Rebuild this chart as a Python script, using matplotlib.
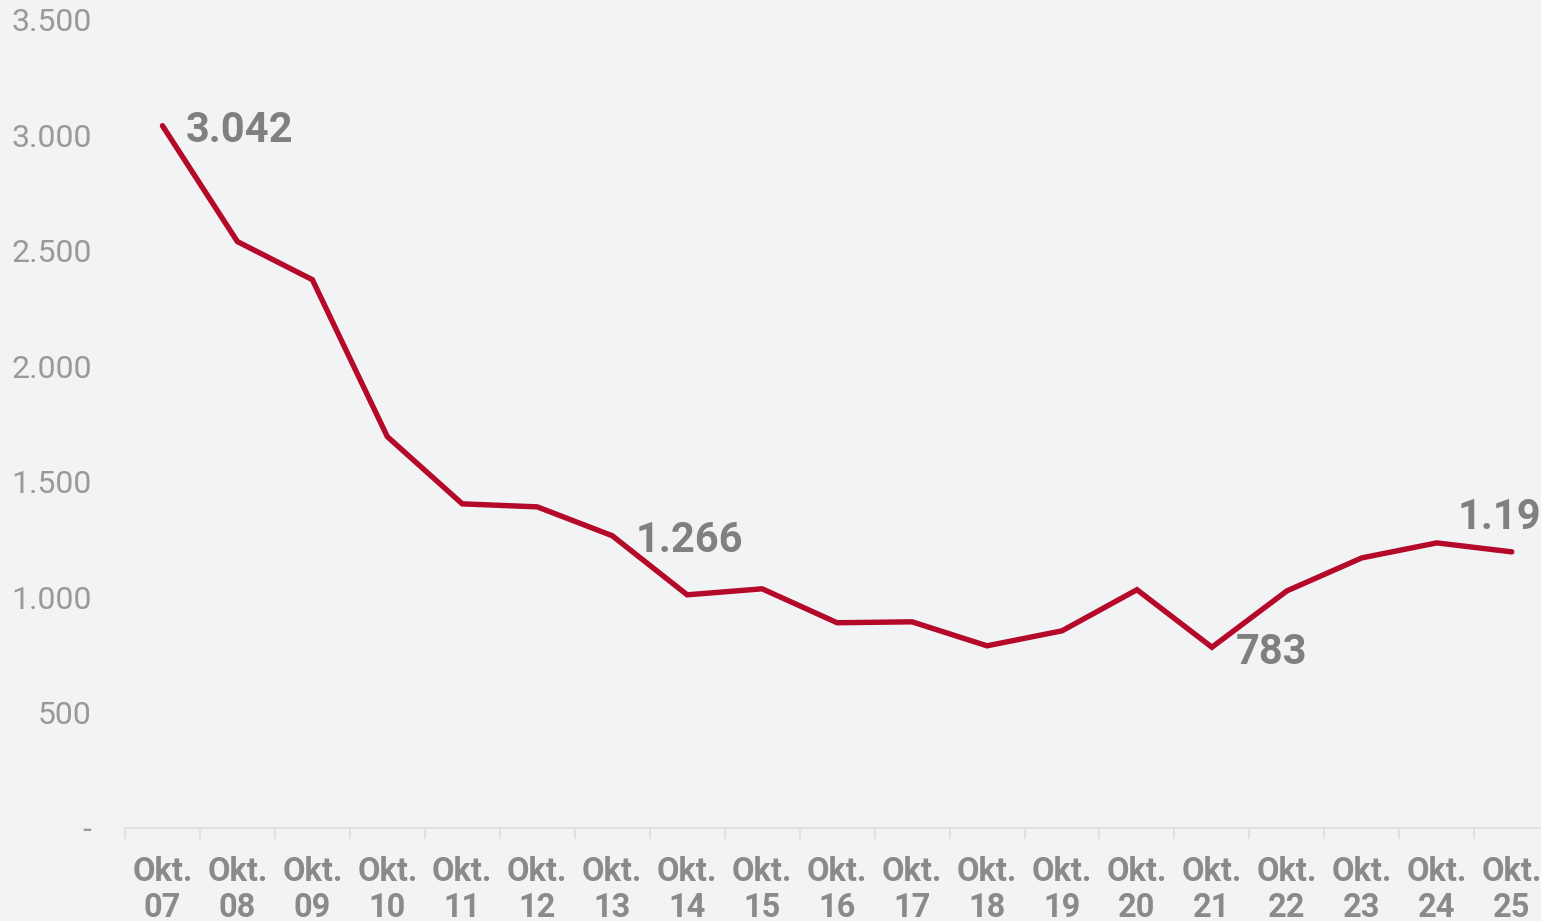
import numpy as np
import matplotlib.pyplot as plt
from matplotlib.ticker import FuncFormatter, FixedLocator

years = ['07', '08', '09', '10', '11', '12', '13', '14', '15', '16',
         '17', '18', '19', '20', '21', '22', '23', '24', '25']
values = [3042, 2540, 2375, 1695, 1404, 1391, 1266, 1010, 1036, 889,
          893, 789, 854, 1032, 783, 1027, 1170, 1235, 1196]
labelled = [0, 6, 14]   # Beschriftung rechts neben dem Punkt
last_idx = 18           # Beschriftung oberhalb

bg = '#f2f3f5'
red = '#b5092a'
grey = '#8a8a8a'


def de_fmt(v):
    if v == 0:
        return '-'
    return f'{int(v):,}'.replace(',', '.')


def main():
    plt.rcParams['font.family'] = ['Roboto', 'DejaVu Sans']
    fig = plt.figure(figsize=(15.41, 9.21), dpi=100, facecolor=bg)
    ax = fig.add_axes([0.0811, 0.101, 0.9189, 0.8773], facecolor=bg)

    x = np.arange(len(years))
    ax.plot(x, values, color=red, lw=3.9, solid_capstyle='round', solid_joinstyle='miter')

    ax.set_xlim(-0.5, 18.39)
    ax.set_ylim(0, 3500)

    for i in labelled:
        ax.annotate(de_fmt(values[i]), (x[i], values[i]), xytext=(17, -3.5),
                    textcoords='offset points', ha='left', va='center',
                    fontsize=30, fontweight='bold', color='#808080')
    ax.annotate(de_fmt(values[last_idx]), (x[last_idx], values[last_idx]),
                xytext=(0, 25), textcoords='offset points', ha='center', va='center',
                fontsize=30, fontweight='bold', color='#808080', annotation_clip=False)

    ax.set_yticks(np.arange(0, 3501, 500))
    ax.yaxis.set_major_formatter(FuncFormatter(lambda v, p: de_fmt(v)))
    ax.tick_params(axis='y', length=0, pad=24, labelsize=23, labelcolor='#999999')

    ax.set_xticks(x)
    ax.set_xticklabels(['Okt.\n' + y for y in years])
    ax.tick_params(axis='x', which='major', length=0, pad=20, labelsize=23.5,
                   labelcolor=grey)
    for t in ax.get_xticklabels():
        t.set_fontweight('bold')
        t.set_linespacing(1.15)
    ax.xaxis.set_minor_locator(FixedLocator(np.arange(-0.5, 18.5, 1)))
    ax.tick_params(axis='x', which='minor', length=8, width=1.5, color='#e0e1e3')

    for s in ['top', 'right', 'left']:
        ax.spines[s].set_visible(False)
    ax.spines['bottom'].set_color('#e0e1e3')
    ax.spines['bottom'].set_linewidth(1.5)

    fig.savefig('out.png', dpi=100, facecolor=bg)


if __name__ == '__main__':
    main()
